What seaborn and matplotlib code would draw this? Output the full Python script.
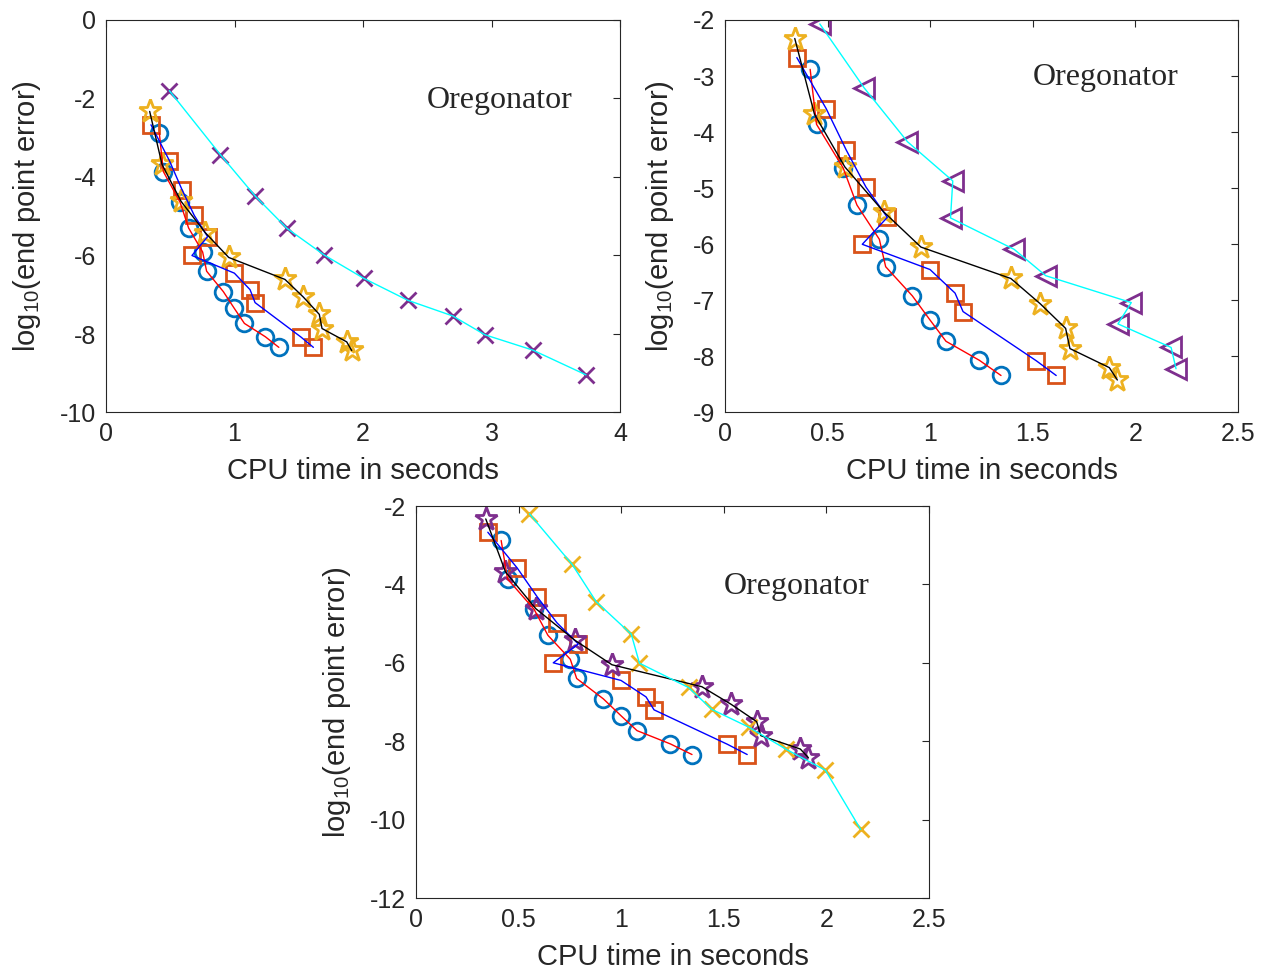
import numpy as np
import pandas as pd
import matplotlib
matplotlib.use('Agg')
import matplotlib.pyplot as plt
from matplotlib.ticker import FormatStrFormatter
import seaborn as sns

# datos (tiempo de CPU, log10 del error)
circ_t = [0.415, 0.446, 0.576, 0.643, 0.752, 0.783, 0.913, 0.999, 1.077, 1.240, 1.345]
circ_err = [-2.88, -3.86, -4.64, -5.30, -5.91, -6.40, -6.92, -7.35, -7.73, -8.07, -8.34]

sq_t = [0.350, 0.493, 0.591, 0.687, 0.791, 0.669, 0.999, 1.121, 1.160, 1.518, 1.614]
sq_err = [-2.67, -3.58, -4.32, -4.98, -5.52, -6.00, -6.45, -6.87, -7.20, -8.08, -8.34]

star_t = [0.340, 0.436, 0.584, 0.773, 0.955, 1.393, 1.536, 1.660, 1.681, 1.873, 1.912]
star_err = [-2.33, -3.68, -4.62, -5.42, -6.05, -6.61, -7.06, -7.50, -7.86, -8.20, -8.42]

# serie 4 de cada panel
x1_t = [0.493, 0.890, 1.162, 1.409, 1.699, 2.005, 2.348, 2.698, 2.949, 3.321, 3.735]
x1_err = [-1.80, -3.43, -4.49, -5.31, -5.99, -6.58, -7.14, -7.54, -8.02, -8.41, -9.04]

tri_t = [0.462, 0.678, 0.889, 1.110, 1.099, 1.409, 1.563, 1.980, 1.915, 2.174, 2.198]
tri_err = [-2.07, -3.21, -4.17, -4.87, -5.53, -6.09, -6.56, -7.04, -7.42, -7.84, -8.22]

x3_t = [0.553, 0.761, 0.878, 1.049, 1.089, 1.328, 1.442, 1.621, 1.805, 1.995, 2.167]
x3_err = [-2.20, -3.49, -4.44, -5.27, -6.01, -6.63, -7.19, -7.64, -8.21, -8.74, -10.25]

C_BLUE = '#0072BD'
C_ORANGE = '#D95319'
C_YELLOW = '#EDB120'
C_PURPLE = '#7E2F8E'

sns.set_theme(style='white')
plt.rcParams['font.family'] = ['Liberation Sans', 'DejaVu Sans']
plt.rcParams['mathtext.fontset'] = 'custom'
plt.rcParams['mathtext.rm'] = 'Liberation Sans'
plt.rcParams['mathtext.it'] = 'Liberation Sans:italic'
plt.rcParams['axes.edgecolor'] = '#262626'
plt.rcParams['axes.linewidth'] = 0.8


def draw_series(ax, t, err, line_color, marker, mcolor, ms, mew=1.8):
    df = pd.DataFrame({'t': t, 'err': err})
    sns.lineplot(data=df, x='t', y='err', sort=False, estimator=None, ax=ax,
                 ls='', marker=marker, ms=ms, mfc='none', mec=mcolor, mew=mew,
                 color=mcolor, zorder=2)
    sns.lineplot(data=df, x='t', y='err', sort=False, estimator=None, ax=ax,
                 color=line_color, lw=1.0, zorder=3)


def style_axes(ax, xlim, ylim, xticks, yticks, label_xy):
    ax.set_xlim(*xlim)
    ax.set_ylim(*ylim)
    ax.set_xticks(xticks)
    ax.set_yticks(yticks)
    ax.xaxis.set_major_formatter(FormatStrFormatter('%g'))
    ax.yaxis.set_major_formatter(FormatStrFormatter('%g'))
    ax.tick_params(direction='in', top=True, right=True, length=5, width=0.8,
                   labelsize=18, pad=7, colors='#262626')
    ax.set_xlabel('CPU time in seconds', fontsize=21, color='#262626', labelpad=8)
    ax.set_ylabel('log$_{10}$(end point error)', fontsize=21, color='#262626', labelpad=12)
    ax.text(label_xy[0], label_xy[1], 'Oregonator', fontsize=23,
            family=['Liberation Serif', 'DejaVu Serif'], ha='left', va='center')
    for s in ax.spines.values():
        s.set_visible(True)


fig = plt.figure(figsize=(12.72, 9.71), dpi=100)
W, H = 1272, 971
ax1 = fig.add_axes([106 / W, 1 - 412.5 / H, 514 / W, 392.5 / H])
ax2 = fig.add_axes([725 / W, 1 - 412.5 / H, 513 / W, 392.5 / H])
ax3 = fig.add_axes([416 / W, 1 - 898 / H, 513 / W, 392 / H])

for ax in (ax1, ax2, ax3):
    draw_series(ax, circ_t, circ_err, 'red', 'o', C_BLUE, 12, 2.0)
    draw_series(ax, sq_t, sq_err, 'blue', 's', C_ORANGE, 11, 2.0)

# panel 1
draw_series(ax1, star_t, star_err, 'black', '*', C_YELLOW, 17, 2.0)
draw_series(ax1, x1_t, x1_err, 'cyan', 'x', C_PURPLE, 12, 2.0)
style_axes(ax1, (0, 4), (-10, 0), np.arange(0, 5, 1), np.arange(-10, 1, 2), (2.5, -2.05))

# panel 2
draw_series(ax2, star_t, star_err, 'black', '*', C_YELLOW, 17, 2.0)
draw_series(ax2, tri_t, tri_err, 'cyan', '<', C_PURPLE, 14, 2.0)
style_axes(ax2, (0, 2.5), (-9, -2), np.arange(0, 2.6, 0.5), np.arange(-9, -1, 1), (1.5, -3.03))

# panel 3
draw_series(ax3, star_t, star_err, 'black', '*', C_PURPLE, 17, 2.0)
draw_series(ax3, x3_t, x3_err, 'cyan', 'x', C_YELLOW, 12, 2.0)
style_axes(ax3, (0, 2.5), (-12, -2), np.arange(0, 2.6, 0.5), np.arange(-12, -1, 2), (1.5, -4.05))

fig.savefig('out.png', dpi=100)
